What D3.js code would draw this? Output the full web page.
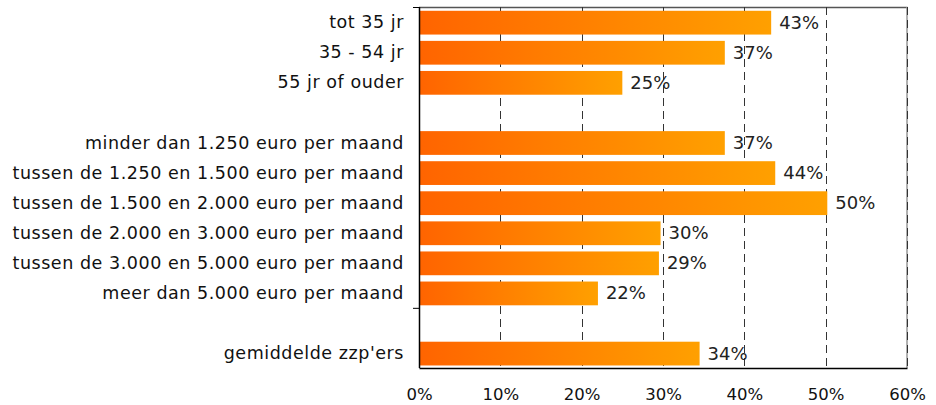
<!DOCTYPE html>
<html>
<head>
<meta charset="utf-8">
<script src="https://cdn.jsdelivr.net/npm/d3@7"></script>
<style>
  html, body { margin: 0; padding: 0; background: #fff; }
  svg { display: block; font-family: "DejaVu Sans", Verdana, sans-serif; }
</style>
</head>
<body>
<svg id="chart" width="936" height="405"></svg>
<script>
const categories = [
  "tot 35 jr",
  "35 - 54 jr",
  "55 jr of ouder",
  "",
  "minder dan 1.250 euro per maand",
  "tussen de 1.250 en 1.500 euro per maand",
  "tussen de 1.500 en 2.000 euro per maand",
  "tussen de 2.000 en 3.000 euro per maand",
  "tussen de 3.000 en 5.000 euro per maand",
  "meer dan 5.000 euro per maand",
  " ",
  "gemiddelde zzp'ers"
];
const values = [43.3, 37.6, 25.0, null, 37.6, 43.8, 50.2, 29.7, 29.5, 22.0, null, 34.5];
const valueLabels = ["43%", "37%", "25%", "", "37%", "44%", "50%", "30%", "29%", "22%", "", "34%"];
const xTicks = [0, 10, 20, 30, 40, 50, 60];

const svg = d3.select("#chart");
const mLeft = 419, mRight = 907, mTop = 7, mBottom = 368;

const x = d3.scaleLinear().domain([0, 60]).range([mLeft, mRight]);
const y = d3.scaleBand().domain(d3.range(categories.length)).range([mTop, mBottom])
  .paddingInner(0.21).paddingOuter(0.105).align(0.6);

const defs = svg.append("defs");
const grad = defs.append("linearGradient").attr("id", "barGrad")
  .attr("x1", "0").attr("x2", "1").attr("y1", "0").attr("y2", "0");
grad.append("stop").attr("offset", "0%").attr("stop-color", "#FF6400");
grad.append("stop").attr("offset", "100%").attr("stop-color", "#FFA000");

// frame: top and right border
svg.append("line").attr("x1", mLeft).attr("x2", mRight + 0.5).attr("y1", mTop + 0.5).attr("y2", mTop + 0.5)
  .attr("stroke", "#555").attr("stroke-width", 1.5);
svg.append("line").attr("x1", mRight).attr("x2", mRight).attr("y1", mTop).attr("y2", mBottom)
  .attr("stroke", "#999").attr("stroke-width", 1.5);

// gridlines
svg.append("g").selectAll("line").data(xTicks.filter(d => d > 0)).join("line")
  .attr("x1", d => Math.round(x(d)) + 0.5).attr("x2", d => Math.round(x(d)) + 0.5)
  .attr("y1", mTop).attr("y2", mBottom)
  .attr("stroke", "#333").attr("stroke-width", 1)
  .attr("stroke-dasharray", "8,5");

// bars
const rows = categories.map((c, i) => ({c, i, v: values[i], lab: valueLabels[i]}));
svg.append("g").selectAll("rect").data(rows.filter(d => d.v != null)).join("rect")
  .attr("x", x(0) + 1)
  .attr("y", d => y(d.i))
  .attr("width", d => x(d.v) - x(0) - 1)
  .attr("height", y.bandwidth())
  .attr("fill", "url(#barGrad)");

// value labels
svg.append("g").selectAll("text").data(rows.filter(d => d.v != null)).join("text")
  .attr("x", d => x(d.v) + 8)
  .attr("y", d => y(d.i) + y.bandwidth() / 2 + 1)
  .attr("dominant-baseline", "middle")
  .attr("font-size", 18)
  .attr("fill", "#222")
  .text(d => d.lab);

// left axis
const yAxisG = svg.append("g").attr("transform", `translate(${mLeft},0)`);
yAxisG.append("line").attr("x1", 0.5).attr("x2", 0.5).attr("y1", mTop).attr("y2", mBottom)
  .attr("stroke", "#000").attr("stroke-width", 1.5);
yAxisG.selectAll("line.tk").data([0, 10]).join("line").attr("class", "tk")
  .attr("x1", -6).attr("x2", 0)
  .attr("y1", d => mTop + y.step() * d + 0.5).attr("y2", d => mTop + y.step() * d + 0.5)
  .attr("stroke", "#000").attr("stroke-width", 1);
yAxisG.selectAll("text").data(rows.filter(d => d.c.trim() !== "")).join("text")
  .attr("x", -15)
  .attr("y", d => y(d.i) + y.bandwidth() / 2 + 0.5)
  .attr("text-anchor", "end")
  .attr("dominant-baseline", "middle")
  .attr("font-size", 17.5)
  .attr("letter-spacing", 0.55)
  .attr("fill", "#111")
  .text(d => d.c);

// bottom axis
const xAxis = d3.axisBottom(x).tickValues(xTicks).tickFormat(d => d + "%").tickSize(0).tickPadding(20.5);
const xg = svg.append("g").attr("transform", `translate(0,${mBottom})`).call(xAxis);
xg.select(".domain").attr("stroke", "#000").attr("stroke-width", 1.5);
xg.selectAll("text").attr("font-size", 16.5).attr("fill", "#111")
  .attr("font-family", "'DejaVu Sans', Verdana, sans-serif");
</script>
</body>
</html>
